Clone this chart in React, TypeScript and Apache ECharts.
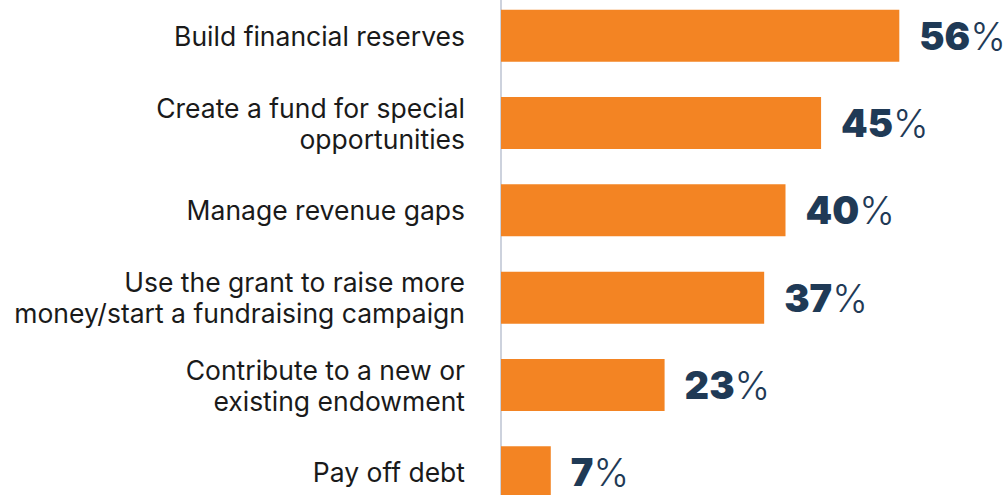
import React, { useEffect, useRef } from "react";
import * as echarts from "echarts";

const categories = [
  "Build financial reserves",
  "Create a fund for special\nopportunities",
  "Manage revenue gaps",
  "Use the grant to raise more\nmoney/start a fundraising campaign",
  "Contribute to a new or\nexisting endowment",
  "Pay off debt",
];
const values = [56, 45, 40, 37, 23, 7];

const ORANGE = "#F38423";
const NAVY = "#1F3A56";

export default function App() {
  const ref = useRef<HTMLDivElement>(null);
  useEffect(() => {
    if (!ref.current) return;
    const chart = echarts.init(ref.current, undefined, { renderer: "svg" });
    chart.setOption({
      animation: false,
      grid: { left: 501, top: 0, width: 505, height: 524, containLabel: false, outerBoundsMode: "none" },
      xAxis: { type: "value", min: 0, max: 71, show: false },
      yAxis: {
        type: "category",
        data: categories,
        inverse: true,
        axisLine: { show: true, lineStyle: { color: "#CDD2DD", width: 2 } },
        axisTick: { show: false },
        splitLine: { show: false },
        axisLabel: {
          margin: 36,
          fontFamily: "Inter",
          fontSize: 26.5,
          lineHeight: 31,
          color: "#1a1a1a",
          align: "right",
        },
      },
      series: [
        {
          type: "bar",
          data: values,
          barWidth: 52,
          itemStyle: { color: ORANGE },
          label: {
            show: true,
            position: "right",
            distance: 20,
            formatter: (p: any) => `{n|${p.value}}{p|%}`,
            rich: {
              n: { fontFamily: "Inter", fontSize: 38, fontWeight: 900, color: NAVY },
              p: { fontFamily: "Inter", fontSize: 38, fontWeight: 300, color: NAVY },
            },
          },
        },
      ],
    });
    return () => chart.dispose();
  }, []);
  return (
    <div style={{ position: "absolute", left: 0, top: 0, width: 1006, height: 495, overflow: "hidden", background: "#fff" }}>
      <div ref={ref} style={{ position: "absolute", left: 0, top: -8, width: 1006, height: 530 }} />
    </div>
  );
}
